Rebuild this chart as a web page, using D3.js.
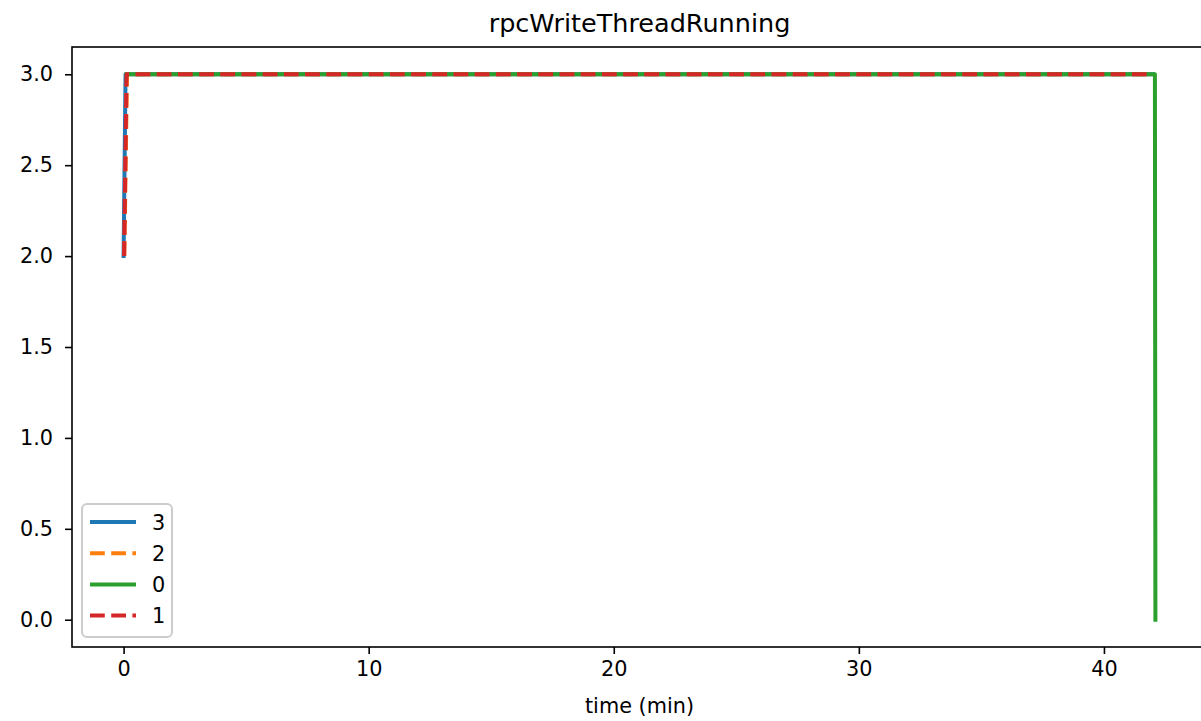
<!DOCTYPE html>
<html>
<head>
<meta charset="utf-8">
<script src="https://cdn.jsdelivr.net/npm/d3@7"></script>
<style>
  html, body { margin: 0; padding: 0; background: #fff; }
  svg { display: block; font-family: "DejaVu Sans", sans-serif; }
</style>
</head>
<body>
<svg id="chart" width="1201" height="721"></svg>
<script>
// ---- data (time in minutes, value) ----
const seriesNames = ["3", "2", "0", "1"];
const seriesColors = ["#1f77b4", "#ff7f0e", "#2ca02c", "#d62728"];
const seriesDashed = [false, true, false, true];
const series3 = [[0.0, 2], [0.08, 3], [42.0, 3]];
const series2 = [[0.03, 2], [0.14, 3], [42.0, 3]];
const series0 = [[0.12, 3], [42.08, 3], [42.1, 0]];
const series1 = [[0.02, 2], [0.12, 3], [42.0, 3]];
const xTicks = [0, 10, 20, 30, 40];
const yTicks = [0.0, 0.5, 1.0, 1.5, 2.0, 2.5, 3.0];
const titleText = "rpcWriteThreadRunning";
const xLabelText = "time (min)";

const allSeries = [series3, series2, series0, series1];

(function () {
const svg = d3.select("#chart");
const pLeft = 72, pRight = 1207, pTop = 47, pBottom = 647;
const fs = 20.8;

const allPts = allSeries.flat();
const xMin = d3.min(allPts, d => d[0]), xMax = d3.max(allPts, d => d[0]);
const yMin = d3.min(allPts, d => d[1]), yMax = d3.max(allPts, d => d[1]);
const xm = (xMax - xMin) * 0.05, ym = (yMax - yMin) * 0.05;

const x = d3.scaleLinear().domain([xMin - xm, xMax + xm]).range([pLeft, pRight]);
const y = d3.scaleLinear().domain([yMin - ym, yMax + ym]).range([pBottom, pTop]);

svg.append("clipPath").attr("id", "clip")
  .append("rect").attr("x", pLeft).attr("y", pTop).attr("width", pRight - pLeft).attr("height", pBottom - pTop);

const line = d3.line().x(d => x(d[0])).y(d => y(d[1]));
const g = svg.append("g").attr("clip-path", "url(#clip)");
allSeries.forEach((s, i) => {
  g.append("path")
    .datum(s)
    .attr("d", line)
    .attr("fill", "none")
    .attr("stroke", seriesColors[i])
    .attr("stroke-width", 4)
    .attr("stroke-linecap", seriesDashed[i] ? "butt" : "square")
    .attr("stroke-linejoin", "round")
    .attr("stroke-dasharray", seriesDashed[i] ? "14.8,6.4" : null);
});

svg.append("rect").attr("x", pLeft).attr("y", pTop).attr("width", pRight - pLeft).attr("height", pBottom - pTop)
  .attr("fill", "none").attr("stroke", "#000").attr("stroke-width", 1.6);

const xAxis = d3.axisBottom(x).tickValues(xTicks).tickFormat(d3.format("d")).tickSize(7).tickPadding(7);
const gx = svg.append("g").attr("transform", `translate(0,${pBottom})`).call(xAxis);
gx.select(".domain").remove();
gx.selectAll(".tick line").attr("stroke", "#000").attr("stroke-width", 1.6);
gx.selectAll(".tick text").attr("font-size", fs).attr("fill", "#000").attr("font-family", "DejaVu Sans");

const yAxis = d3.axisLeft(y).tickValues(yTicks).tickFormat(d3.format(".1f")).tickSize(7).tickPadding(12);
const gy = svg.append("g").attr("transform", `translate(${pLeft},0)`).call(yAxis);
gy.select(".domain").remove();
gy.selectAll(".tick line").attr("stroke", "#000").attr("stroke-width", 1.6);
gy.selectAll(".tick text").attr("font-size", fs).attr("fill", "#000").attr("font-family", "DejaVu Sans");

svg.append("text").attr("x", (pLeft + pRight) / 2).attr("y", 32).attr("text-anchor", "middle")
  .attr("font-size", 25.5).attr("fill", "#000").text(titleText);
svg.append("text").attr("x", (pLeft + pRight) / 2).attr("y", 713).attr("text-anchor", "middle")
  .attr("font-size", fs).attr("fill", "#000").text(xLabelText);

const lg = svg.append("g");
lg.append("rect").attr("x", 82).attr("y", 504).attr("width", 90).attr("height", 133)
  .attr("rx", 5).attr("fill", "#fff").attr("fill-opacity", 0.8)
  .attr("stroke", "#cccccc").attr("stroke-width", 2);
seriesNames.forEach((name, i) => {
  const yy = 522 + i * 31.2;
  lg.append("line").attr("x1", 90).attr("x2", 136).attr("y1", yy).attr("y2", yy)
    .attr("stroke", seriesColors[i]).attr("stroke-width", 4)
    .attr("stroke-dasharray", seriesDashed[i] ? "14.8,6.4" : null);
  lg.append("text").attr("x", 152).attr("y", yy + 7.5).attr("font-size", fs).attr("fill", "#000").text(name);
});
})();
</script>
</body>
</html>
